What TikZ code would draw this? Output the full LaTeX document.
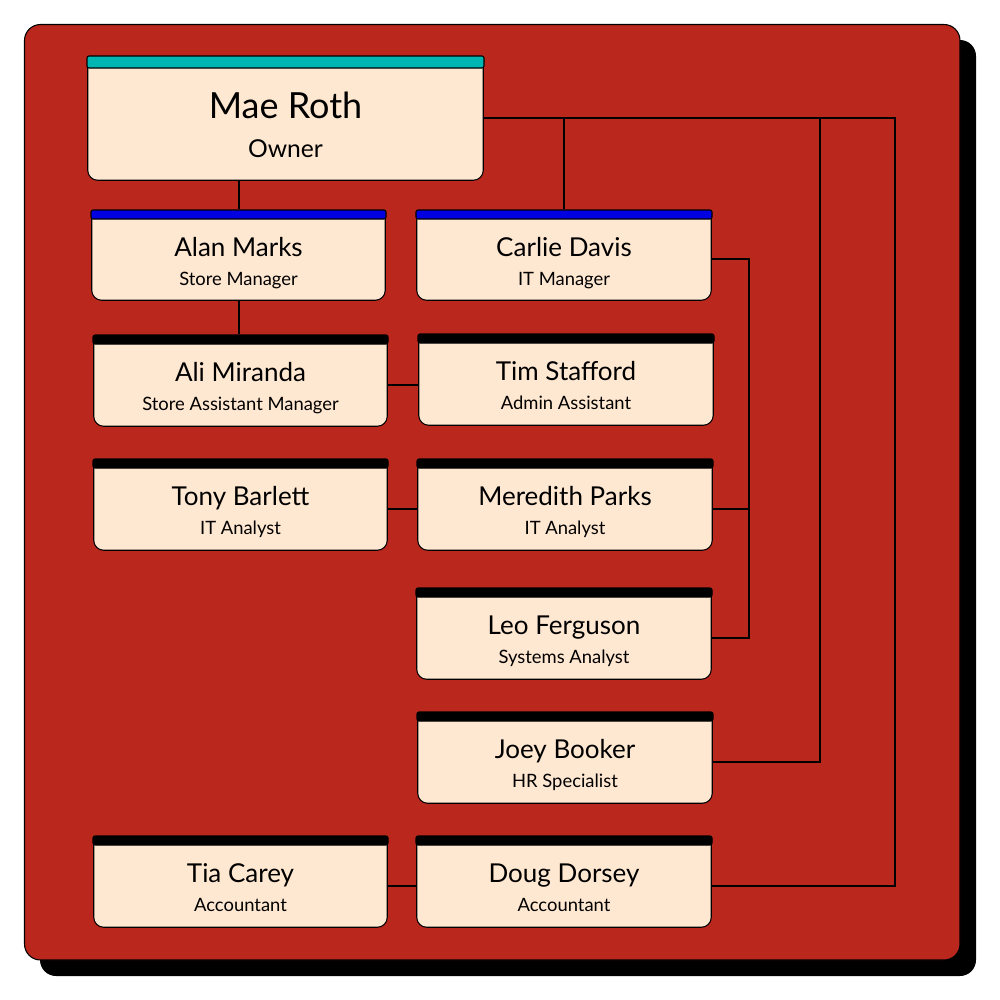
\documentclass[tikz,border=0pt]{standalone}
\usepackage{fontspec}
\setmainfont{Lato}
\usetikzlibrary{fit,calc}
\definecolor{panelred}{RGB}{185,39,29}
\definecolor{cream}{RGB}{255,232,209}
\definecolor{hdrteal}{RGB}{0,182,178}
\definecolor{hdrblue}{RGB}{0,0,224}
\tikzset{
 conn/.style={line width=1.5pt, draw=black},
 bodyfit/.style={inner sep=0pt, draw=none},
 bodyline/.style={fill=cream, draw=black, line width=0.8pt, rounded corners=7.5pt},
 barbox/.style={inner sep=0pt, draw=black, line width=0.8pt, rounded corners=1.5pt},
 nametext/.style={anchor=base, inner sep=0pt, font=\fontsize{19.5}{22}\selectfont},
 roletext/.style={anchor=base, inner sep=0pt, font=\fontsize{13.8}{16}\selectfont},
}
\newcommand\orgcard[7]{%
 \node[bodyfit, fit={({#2+1},{#3+#7}) ({#4-1},#5)}] (#1) {};
 \filldraw[bodyline] (#1.north west) -- (#1.south west) -- (#1.south east) -- (#1.north east);
 \node[barbox, fill=#6, fit={(#2,#3) (#4,{#3+#7})}] (#1-bar) {};
}
\begin{document}
\begin{tikzpicture}[x=0.75pt,y=-0.75pt]
\useasboundingbox (0,0) rectangle (1000,1000);
\fill[black, rounded corners=12pt] (40,40) rectangle (976,976);
\filldraw[fill=panelred, draw=black, line width=0.8pt, rounded corners=12pt] (24.5,24.5) rectangle (960,960);

\orgcard{mae}{87}{56}{484}{180}{hdrteal}{12}
\node[anchor=base, inner sep=0pt, font=\fontsize{27}{30}\selectfont] (mae-n) at ($(mae.north)+(0,51)$) {Mae Roth};
\node[anchor=base, inner sep=0pt, font=\fontsize{18.5}{21}\selectfont] (mae-r) at ($(mae.north)+(0,90)$) {Owner};

\orgcard{alan}{91}{210}{386}{300}{hdrblue}{9}
\node[nametext] (alan-n) at ($(alan.north)+(0,38)$) {Alan Marks};
\node[roletext] (alan-r) at ($(alan.north)+(0,67)$) {Store Manager};

\orgcard{carlie}{416}{210}{712}{300}{hdrblue}{9}
\node[nametext] (carlie-n) at ($(carlie.north)+(0,38)$) {Carlie Davis};
\node[roletext] (carlie-r) at ($(carlie.north)+(0,67)$) {IT Manager};

\orgcard{ali}{93}{335}{388}{426}{black}{9}
\node[nametext] (ali-n) at ($(ali.north)+(0,38)$) {Ali Miranda};
\node[roletext] (ali-r) at ($(ali.north)+(0,67)$) {Store Assistant Manager};

\orgcard{tim}{418}{334}{714}{425}{black}{9}
\node[nametext] (tim-n) at ($(tim.north)+(0,38)$) {Tim Stafford};
\node[roletext] (tim-r) at ($(tim.north)+(0,67)$) {Admin Assistant};

\orgcard{tony}{93}{459}{388}{550}{black}{9}
\node[nametext] (tony-n) at ($(tony.north)+(0,38)$) {Tony Barlett};
\node[roletext] (tony-r) at ($(tony.north)+(0,67)$) {IT Analyst};

\orgcard{meredith}{417}{459}{713}{550}{black}{9}
\node[nametext] (meredith-n) at ($(meredith.north)+(0,38)$) {Meredith Parks};
\node[roletext] (meredith-r) at ($(meredith.north)+(0,67)$) {IT Analyst};

\orgcard{leo}{416}{588}{712}{679}{black}{9}
\node[nametext] (leo-n) at ($(leo.north)+(0,38)$) {Leo Ferguson};
\node[roletext] (leo-r) at ($(leo.north)+(0,67)$) {Systems Analyst};

\orgcard{joey}{417}{712}{713}{803}{black}{9}
\node[nametext] (joey-n) at ($(joey.north)+(0,38)$) {Joey Booker};
\node[roletext] (joey-r) at ($(joey.north)+(0,67)$) {HR Specialist};

\orgcard{tia}{93}{836}{388}{927}{black}{9}
\node[nametext] (tia-n) at ($(tia.north)+(0,38)$) {Tia Carey};
\node[roletext] (tia-r) at ($(tia.north)+(0,67)$) {Accountant};

\orgcard{doug}{416}{836}{712}{927}{black}{9}
\node[nametext] (doug-n) at ($(doug.north)+(0,38)$) {Doug Dorsey};
\node[roletext] (doug-r) at ($(doug.north)+(0,67)$) {Accountant};

\coordinate (j1) at (895,118);
\coordinate (j2) at (820,118);
\coordinate (j3) at (749,259);

\draw[conn] (alan-bar.north) -- (alan-bar.north |- mae.south);
\draw[conn] (alan.south) -- (alan.south |- ali-bar.north);
\draw[conn] (mae.east |- j1) -- (j1) -- (j1 |- doug.east) -- (doug.east);
\draw[conn] (carlie-bar.north) -- (carlie-bar.north |- j1);
\draw[conn] (j2) -- (j2 |- joey.east) -- (joey.east);
\draw[conn] (carlie.east |- j3) -- (j3) -- (j3 |- leo.east) -- (leo.east);
\draw[conn] (meredith.east) -- (meredith.east -| j3);
\draw[conn] (ali.east) -- (ali.east -| tim.west);
\draw[conn] (tony.east) -- (tony.east -| meredith.west);
\draw[conn] (tia.east) -- (tia.east -| doug.west);
\end{tikzpicture}
\end{document}
